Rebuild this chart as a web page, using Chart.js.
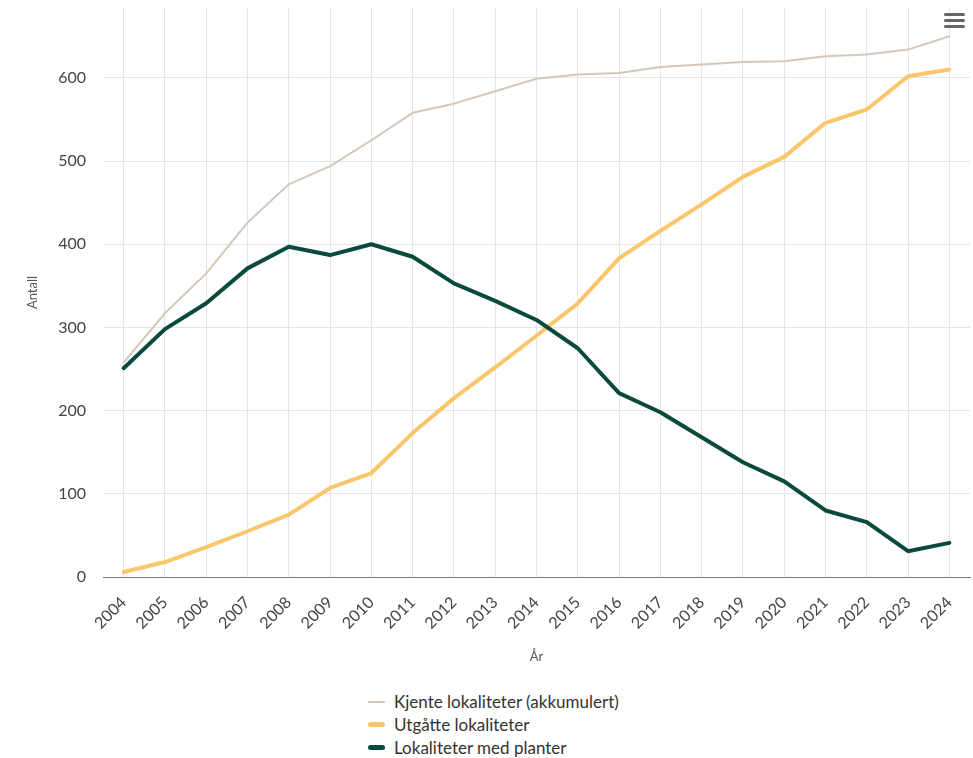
<!DOCTYPE html>
<html>
<head>
<meta charset="utf-8">
<script src="https://cdn.jsdelivr.net/npm/chart.js@4.4.1/dist/chart.umd.min.js"></script>
<style>
  body { margin: 0; background: #fff; font-family: Lato, "Noto Sans", sans-serif; }
  #wrap { position: relative; width: 973px; height: 758px; }
  #chartBox { position: absolute; left: 0; top: 0; width: 973px; height: 672px; }
  #menu { position: absolute; left: 944px; top: 13px; width: 21px; }
  #menu span { display: block; height: 3px; background: #666; border-radius: 2px; margin-bottom: 3px; }
  #legend { position: absolute; left: 368px; top: 690px; }
  .item { height: 23px; display: flex; align-items: center; font-size: 17px; color: #333; }
  .mark { width: 17px; margin-right: 9px; border-radius: 3px; }
</style>
</head>
<body>
<div id="wrap">
  <div id="chartBox"><canvas id="lineGraph"></canvas></div>
  <div id="menu"><span></span><span></span><span></span></div>
  <div id="legend"></div>
</div>
<script>
const years = ['2004', '2005', '2006', '2007', '2008', '2009', '2010', '2011', '2012', '2013',
  '2014', '2015', '2016', '2017', '2018', '2019', '2020', '2021', '2022', '2023', '2024'];

// kjente lokaliteter, akkumulert
const kjente = [258, 317, 365, 426, 472, 494, 525, 558, 569, 584,
  599, 604, 606, 613, 616, 619, 620, 626, 628, 634, 650];
const utgatte = [6, 18, 36, 55, 75, 107, 125, 173, 215, 252,
  290, 329, 383, 416, 448, 481, 505, 546, 562, 602, 610];
const medPlanter = [251, 298, 329, 371, 397, 387, 400, 385, 353, 332,
  309, 275, 221, 198, 168, 138, 115, 80, 66, 31, 41];

const yTicks = [0, 100, 200, 300, 400, 500, 600];

const series = [
  { label: 'Kjente lokaliteter (akkumulert)', data: kjente, color: '#d5c7b8', width: 2, order: 2 },
  { label: 'Utgåtte lokaliteter', data: utgatte, color: '#f9c66b', width: 4, order: 1 },
  { label: 'Lokaliteter med planter', data: medPlanter, color: '#0a4a3e', width: 4, order: 0 }
];

const tickFont = { family: 'Lato, "Noto Sans", sans-serif', size: 16 };
const textColor = '#444';

const lineConfig = {
  type: 'line',
  data: {
    labels: years,
    datasets: series.map(s => ({
      label: s.label,
      data: s.data,
      borderColor: s.color,
      backgroundColor: s.color,
      borderWidth: s.width,
      order: s.order,
      pointRadius: 0,
      tension: 0,
      borderCapStyle: 'round',
      borderJoinStyle: 'round'
    }))
  },
  options: {
    responsive: true,
    maintainAspectRatio: false,
    animation: false,
    layout: { padding: { top: 8, right: 3, left: 21, bottom: 3 } },
    plugins: {
      legend: { display: false },
      tooltip: { enabled: false }
    },
    scales: {
      x: {
        type: 'category',
        offset: true,
        grid: { offset: false, color: '#e6e6e6', drawTicks: false },
        border: { color: '#777', width: 1 },
        ticks: { maxRotation: 45, minRotation: 45, padding: 16, color: textColor, font: tickFont },
        title: { display: true, text: 'År', color: '#555', font: { family: tickFont.family, size: 13 }, padding: 4 },
        afterFit: scale => { scale.height = 92; scale.paddingLeft = 0; scale.paddingRight = 0; }
      },
      y: {
        min: 0,
        max: 684,
        afterBuildTicks: scale => { scale.ticks = yTicks.map(v => ({ value: v })); },
        grid: { color: '#e6e6e6', drawTicks: false },
        border: { display: false },
        ticks: { padding: 17, color: textColor, font: tickFont },
        title: { display: true, text: 'Antall', color: '#555', font: { family: tickFont.family, size: 13 }, padding: 4 },
        afterFit: scale => { scale.width = 82; scale.paddingTop = 0; scale.paddingBottom = 0; }
      }
    }
  }
};

const lineCtx = document.getElementById('lineGraph').getContext('2d');
const lineChart = new Chart(lineCtx, lineConfig);

// legend in a column, like the original
const legendBox = document.getElementById('legend');
series.forEach(s => {
  const row = document.createElement('div');
  row.className = 'item';
  const mark = document.createElement('div');
  mark.className = 'mark';
  mark.style.height = (s.width === 2 ? 2 : 5) + 'px';
  mark.style.background = s.color;
  row.appendChild(mark);
  row.appendChild(document.createTextNode(s.label));
  legendBox.appendChild(row);
});
</script>
</body>
</html>
